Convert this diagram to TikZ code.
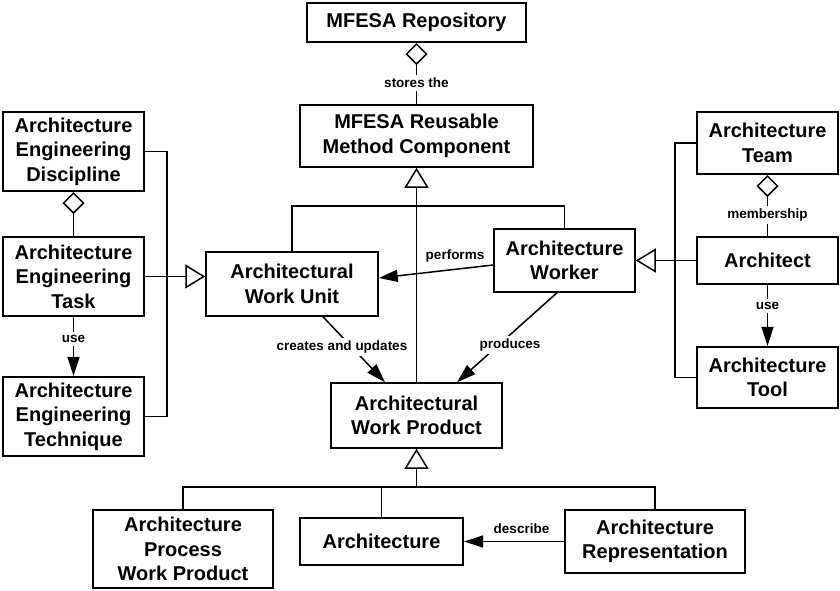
\documentclass[tikz,border=0pt]{standalone}
\usepackage{fontspec}
\setmainfont{Liberation Sans}
\usetikzlibrary{arrows.meta,calc}
\begin{document}
\begin{tikzpicture}[x=1pt,y=-1pt,
  box/.style={draw=black,line width=2.1pt,fill=white,inner sep=0pt,align=center,
    font=\fontsize{20}{24.5}\selectfont\bfseries},
  tbox/.style={box,line width=1.5pt},
  lbl/.style={fill=white,inner sep=3pt,font=\fontsize{13.5}{16}\selectfont\bfseries},
  conn/.style={draw=black,line width=1.5pt},
  gen/.style={conn,-{Triangle[length=20pt,width=24pt,fill=white,line width=1.5pt]}},
  agg/.style={conn,-{Diamond[length=22pt,width=22pt,fill=white,line width=1.5pt]}},
  dep/.style={conn,-{Triangle[length=19pt,width=12pt]}}]
\useasboundingbox (0,0) rectangle (840,591);
\fill[white] (0,0) rectangle (840,591);

% nodes
\node[box,minimum width=219pt,minimum height=39pt] (repo) at (416.5,22.5) {MFESA Repository};
\node[tbox,minimum width=233pt,minimum height=62pt] (rmc) at (416.5,136) {MFESA Reusable\\Method Component};
\node[box,minimum width=141pt,minimum height=79pt] (aed) at (73.5,151.5) {Architecture\\Engineering\\Discipline};
\node[box,minimum width=141pt,minimum height=79pt] (aet) at (73.5,276.5) {Architecture\\Engineering\\Task};
\node[box,minimum width=141pt,minimum height=79pt] (aeq) at (73.5,416.5) {Architecture\\Engineering\\Technique};
\node[tbox,minimum width=172pt,minimum height=64pt] (awu) at (292,284) {Architectural\\Work Unit};
\node[tbox,minimum width=141pt,minimum height=63pt] (aw) at (564.5,260.5) {Architecture\\Worker};
\node[box,minimum width=141pt,minimum height=62pt] (team) at (767.5,143) {Architecture\\Team};
\node[box,minimum width=141pt,minimum height=47pt] (arc) at (767.5,260.5) {Architect};
\node[box,minimum width=141pt,minimum height=61pt] (tool) at (767.5,377.5) {Architecture\\Tool};
\node[tbox,minimum width=171pt,minimum height=65pt] (awp) at (416.5,415.5) {Architectural\\Work Product};
\node[box,minimum width=180pt,minimum height=78pt] (apwp) at (183,549) {Architecture\\Process\\Work Product};
\node[box,minimum width=163pt,minimum height=47pt] (arch) at (381.5,541.5) {Architecture};
\node[box,minimum width=180pt,minimum height=63pt] (arep) at (655,541.5) {Architecture\\Representation};

% junction coordinates
\coordinate (j1) at (416.5,206);
\coordinate (j2) at (416.5,487);
\coordinate (b1) at (167,276.5);
\coordinate (b2) at (675,260.5);

% repository aggregation
\draw[agg] (rmc.north) -- (repo.south);
\node[lbl] (l1) at (416.5,83) {stores the};

% generalization to reusable method component
\draw[conn] (awu.north) |- (j1) -| (aw.north);
\draw[gen] (awp.north) -- (rmc.south);

% left side
\draw[agg] (aet.north) -- (aed.south);
\draw[conn] (aed.east) -| (b1) |- (aeq.east);
\draw[gen] (aet.east) -- (aet.east -| awu.west);
\draw[dep] (aet.south) -- (aeq.north);
\node[lbl] (l2) at (73.5,339) {use};

% right side
\draw[conn] (team.west) -| (b2) |- (tool.west);
\draw[gen] (arc.west) -- (aw.east);
\draw[agg] (arc.north) -- (team.south);
\node[lbl] (l3) at (767.5,215) {membership};
\draw[dep] (arc.south) -- (tool.north);
\node[lbl] (l4) at (767.5,306) {use};

% associations
\draw[dep] ($(aw.west)+(0,4.5)$) -- ($(awu.east)+(0,-6)$);
\node[lbl,inner sep=2pt] (l5) at (455,256) {performs};
\draw[dep] ($(awu.south)+(31,0)$) -- ($(awp.north)+(-31.5,0)$);
\node[lbl] (l6) at (342,347) {creates and updates};
\draw[dep] ($(aw.south)+(-7.5,0)$) -- ($(awp.north)+(40.5,0)$);
\node[lbl] (l7) at (510,345) {produces};

% work product generalization
\draw[gen] (j2) -- (awp.south);
\draw[conn] (apwp.north) |- (j2) -| (arep.north);
\draw[conn] (arch.north) -- (arch.north |- j2);

% describe
\draw[dep] (arep.west) -- (arch.east);
\node[lbl] (l8) at (521.5,529) {describe};
\end{tikzpicture}
\end{document}
